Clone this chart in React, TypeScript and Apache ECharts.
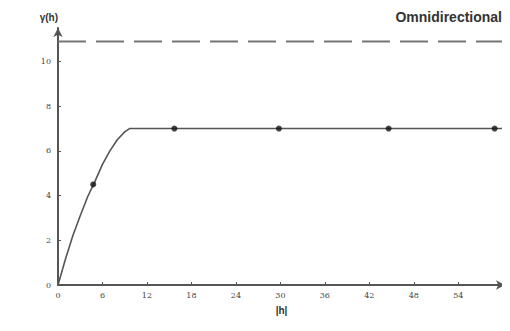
import React, { useEffect, useRef } from "react";
import * as echarts from "echarts";

// Fitted variogram model curve (lag, semivariance)
const modelLag = [0, 1, 2, 3, 4, 5, 6, 7, 8, 9, 9.65, 60.3];
const modelGamma = [0, 1.15, 2.2, 3.1, 3.95, 4.65, 5.4, 6.0, 6.5, 6.85, 7.0, 7.0];

// Experimental variogram points
const sampleLag = [4.75, 15.7, 29.8, 44.6, 58.9];
const sampleGamma = [4.5, 7.0, 7.0, 7.0, 7.0];

// Total variance reference level
const varianceLevel = 10.9;

const xTicks = [0, 6, 12, 18, 24, 30, 36, 42, 48, 54];
const yTicks = [0, 2, 4, 6, 8, 10];

export default function App() {
  const ref = useRef<HTMLDivElement>(null);

  useEffect(() => {
    if (!ref.current) return;
    const chart = echarts.init(ref.current, null, { renderer: "svg" });
    const font = "'Liberation Sans', Arial, sans-serif";
    chart.setOption({
      animation: false,
      backgroundColor: "#ffffff",
      grid: { left: 50, right: 5, top: 20, bottom: 46 },
      title: {
        text: "Omnidirectional",
        right: 3,
        top: 0,
        padding: [2, 5, 5, 5],
        textStyle: { fontFamily: font, fontSize: 14, fontWeight: "bold", color: "#333" },
      },
      xAxis: {
        type: "value",
        min: 0,
        max: 60.3,
        name: "|h|",
        nameLocation: "middle",
        nameGap: 20,
        nameTextStyle: { fontFamily: font, fontSize: 10, fontWeight: "bold", color: "#333" },
        splitLine: { show: false },
        axisLine: {
          lineStyle: { color: "#555", width: 2 },
          symbol: ["none", "arrow"],
          symbolSize: [7, 9],
        },
        axisTick: { inside: true, length: 3, customValues: xTicks, lineStyle: { color: "#555" } },
        axisLabel: { customValues: xTicks, fontFamily: "DejaVu Serif, serif", fontSize: 8, color: "#444", margin: 6 },
      },
      yAxis: {
        type: "value",
        min: 0,
        max: 11.5,
        name: "γ(h)",
        nameLocation: "end",
        nameGap: 6,
        nameTextStyle: { fontFamily: font, fontSize: 10, fontWeight: "bold", color: "#333", align: "right" },
        splitLine: { show: false },
        axisLine: {
          lineStyle: { color: "#555", width: 2 },
          symbol: ["none", "arrow"],
          symbolSize: [7, 9],
        },
        axisTick: { inside: true, length: 3, customValues: yTicks, lineStyle: { color: "#555" } },
        axisLabel: { customValues: yTicks, fontFamily: "DejaVu Serif, serif", fontSize: 8, color: "#444", margin: 7 },
      },
      series: [
        {
          type: "line",
          data: [
            [0, varianceLevel],
            [60.3, varianceLevel],
          ],
          showSymbol: false,
          lineStyle: { color: "#777", width: 2, type: [28, 10] },
          z: 1,
        },
        {
          type: "line",
          data: modelLag.map((x, i) => [x, modelGamma[i]]),
          showSymbol: false,
          lineStyle: { color: "#555", width: 1.6 },
          z: 2,
        },
        {
          type: "scatter",
          data: sampleLag.map((x, i) => [x, sampleGamma[i]]),
          symbolSize: 6,
          itemStyle: { color: "#111" },
          z: 3,
        },
      ],
    });
    return () => chart.dispose();
  }, []);

  return <div ref={ref} style={{ width: 502, height: 323 }} />;
}
